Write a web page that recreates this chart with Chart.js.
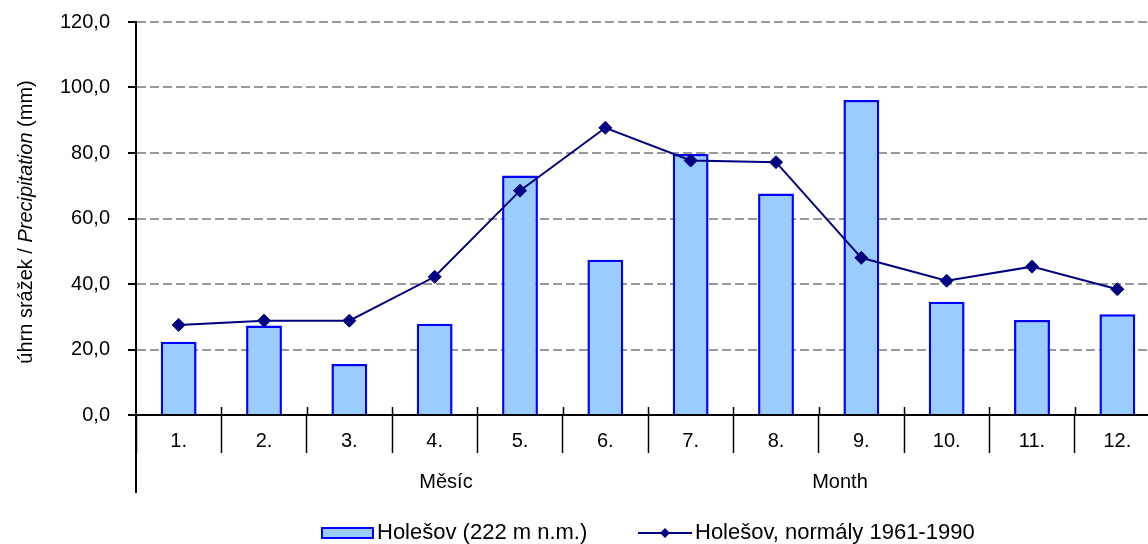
<!DOCTYPE html>
<html>
<head>
<meta charset="utf-8">
<script src="https://cdn.jsdelivr.net/npm/chart.js@4.4.1/dist/chart.umd.min.js"></script>
<style>
html, body { margin: 0; padding: 0; overflow: hidden; background: #fff; }
#wrap { width: 1166px; height: 544px; }
</style>
</head>
<body>
<div id="wrap"><canvas id="c" width="1166" height="544"></canvas></div>
<script>
const months = ['1.', '2.', '3.', '4.', '5.', '6.', '7.', '8.', '9.', '10.', '11.', '12.'];
const precipitation = [22.4, 27.3, 15.6, 27.9, 73.1, 47.4, 79.7, 67.6, 96.2, 34.6, 29.0, 30.8];
const normals = [27.5, 28.8, 28.8, 42.2, 68.5, 87.7, 77.7, 77.2, 48.0, 41.0, 45.3, 38.4];
const yTicks = [0, 20, 40, 60, 80, 100, 120];
const seriesNames = ['Holešov (222 m n.m.)', 'Holešov, normály 1961-1990'];
const groupLabels = ['Měsíc', 'Month'];
const yTitleParts = ['úhrn srážek / ', 'Precipitation', ' (mm)'];

const FONT = '"Liberation Sans", Arial, sans-serif';

const extras = {
  id: 'extras',
  afterDraw(chart) {
    const ctx = chart.ctx;
    const area = chart.chartArea;
    const xs = chart.scales.x;
    ctx.save();
    // small tick marks above the x axis at category boundaries
    ctx.strokeStyle = '#000';
    ctx.lineWidth = 1.5;
    for (let i = 1; i < months.length; i++) {
      const x = (xs.getPixelForValue(i - 1) + xs.getPixelForValue(i)) / 2;
      ctx.beginPath();
      ctx.moveTo(Math.round(x) + 0.5, area.bottom - 8);
      ctx.lineTo(Math.round(x) + 0.5, area.bottom);
      ctx.stroke();
    }
    // left extension of the axis below categories
    ctx.lineWidth = 2;
    ctx.beginPath();
    ctx.moveTo(area.left, area.bottom);
    ctx.lineTo(area.left, 493);
    ctx.stroke();
    // group labels
    ctx.fillStyle = '#000';
    ctx.font = '20px ' + FONT;
    ctx.textAlign = 'center';
    ctx.textBaseline = 'middle';
    ctx.fillText(groupLabels[0], 446, 482);
    ctx.fillText(groupLabels[1], 840, 482);
    // y axis title with italic part
    ctx.save();
    ctx.translate(26, 222);
    ctx.rotate(-Math.PI / 2);
    const fonts = ['20px ' + FONT, 'italic 20px ' + FONT, '20px ' + FONT];
    let total = 0;
    const widths = yTitleParts.map((t, i) => { ctx.font = fonts[i]; const w = ctx.measureText(t).width; total += w; return w; });
    let x0 = -total / 2;
    ctx.textAlign = 'left';
    yTitleParts.forEach((t, i) => { ctx.font = fonts[i]; ctx.fillText(t, x0, 0); x0 += widths[i]; });
    ctx.restore();
    // legend
    const barDs = chart.data.datasets.find(d => d.type === 'bar');
    const lineDs = chart.data.datasets.find(d => d.type === 'line');
    ctx.font = '22px ' + FONT;
    ctx.textAlign = 'left';
    ctx.textBaseline = 'middle';
    ctx.fillStyle = barDs.backgroundColor;
    ctx.fillRect(322, 528, 51, 10);
    ctx.strokeStyle = barDs.borderColor;
    ctx.lineWidth = 2;
    ctx.strokeRect(322, 528, 51, 10);
    ctx.fillStyle = '#000';
    ctx.fillText(barDs.label, 377, 533);
    ctx.strokeStyle = lineDs.borderColor;
    ctx.lineWidth = 2;
    ctx.beginPath();
    ctx.moveTo(638, 533);
    ctx.lineTo(692, 533);
    ctx.stroke();
    ctx.fillStyle = lineDs.pointBackgroundColor;
    ctx.beginPath();
    ctx.moveTo(665, 528); ctx.lineTo(670, 533); ctx.lineTo(665, 538); ctx.lineTo(660, 533); ctx.closePath();
    ctx.fill();
    ctx.fillStyle = '#000';
    ctx.fillText(lineDs.label, 695, 533);
    ctx.restore();
  }
};

new Chart(document.getElementById('c'), {
  type: 'bar',
  data: {
    labels: months,
    datasets: [
      {
        type: 'line',
        label: seriesNames[1],
        data: normals,
        borderColor: '#000080',
        borderWidth: 2,
        backgroundColor: '#000080',
        pointStyle: 'rectRot',
        pointRadius: 6.5,
        pointBackgroundColor: '#000080',
        pointBorderColor: '#000080',
        pointBorderWidth: 1,
        tension: 0,
        order: 0
      },
      {
        type: 'bar',
        label: seriesNames[0],
        data: precipitation,
        backgroundColor: '#99CCFF',
        borderColor: '#0000FF',
        borderWidth: 2.5,
        barPercentage: 0.42,
        categoryPercentage: 1,
        order: 1
      }
    ]
  },
  options: {
    responsive: false,
    animation: false,
    events: [],
    layout: { autoPadding: false, padding: { top: 22, right: 6, bottom: 89, left: 0 } },
    plugins: { legend: { display: false }, tooltip: { enabled: false }, title: { display: false } },
    scales: {
      x: {
        offset: true,
        afterFit(scale) { scale.height = 40; },
        grid: {
          display: true,
          offset: true,
          drawOnChartArea: false,
          drawTicks: true,
          tickLength: 38,
          tickColor: '#000',
          tickWidth: 1.5
        },
        border: { display: true, color: '#000', width: 2 },
        ticks: {
          color: '#000',
          font: { family: FONT, size: 20 },
          padding: -24,
          maxRotation: 0,
          autoSkip: false
        }
      },
      y: {
        min: 0,
        max: 120,
        afterFit(scale) { scale.width = 136; },
        afterBuildTicks(scale) { scale.ticks = yTicks.map(v => ({ value: v })); },
        grid: {
          color: '#999999',
          lineWidth: 2,
          drawTicks: true,
          tickLength: 8,
          tickColor: '#000',
          tickWidth: 2,
          tickBorderDash: []
        },
        border: { display: true, color: '#000', width: 2, dash: [9, 4] },
        ticks: {
          color: '#000',
          font: { family: FONT, size: 20, lineHeight: 0.4 },
          padding: 18,
          callback: v => v.toFixed(1).replace('.', ',')
        }
      }
    }
  },
  plugins: [extras]
});
</script>
</body>
</html>
